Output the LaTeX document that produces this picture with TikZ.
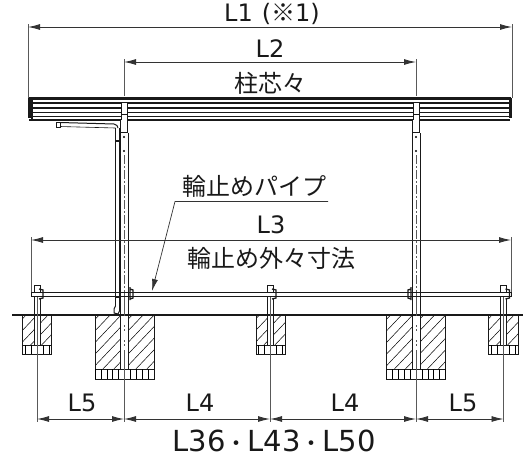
\documentclass[tikz,border=0pt]{standalone}
\usepackage{fontspec}
\setmainfont{DejaVu Sans}
\newfontfamily\cjk{Noto Sans CJK JP}
\usetikzlibrary{arrows.meta}
\newcommand{\middot}{{\cjk\fontsize{22}{22}\selectfont ・}}
\tikzset{
 x=1pt,y=-1pt,
 dimline/.style={line width=0.9pt,draw=black!80,{Latex[length=12pt,width=6pt]}-{Latex[length=12pt,width=6pt]}},
 extline/.style={line width=0.8pt,draw=black!65},
 part/.style={line width=1pt,draw=black!90},
 thin part/.style={line width=0.5pt,draw=black},
 lbl/.style={font=\fontsize{24}{24}\selectfont,text=black!90,inner sep=0pt},
 jlbl/.style={font=\cjk\fontsize{24}{24}\selectfont,text=black!90,inner sep=0pt},
 base/.style={line width=0.9pt,draw=black!90}
}
\newcommand{\footing}[5]{% cx, halfwidth, bottom of hatch, bottom of gravel, postgap
 \begin{scope}
  \clip (#1-#2,315) rectangle (#1+#2,#3);
  \foreach \k in {0,11,...,165}{\draw[thin part] (#1-#2-60+\k,#3+2) -- ++(55,-58);}
 \end{scope}
 \fill[white] (#1-#5,315) rectangle (#1+#5,#3);
 \draw[base] (#1-#2,315) rectangle (#1+#2,#4);
 \draw[base] (#1-#2,#3) -- (#1+#2,#3);
 \begin{scope}
  \clip (#1-#2,#3) rectangle (#1+#2,#4);
  \foreach \k in {-5,...,5}{\draw[thin part] (#1+\k*5.9,#3) -- (#1+\k*5.9,#4);}
 \end{scope}
 \draw[part] (#1-#5,315) -- (#1-#5,#3) (#1+#5,315) -- (#1+#5,#3);
}
\begin{document}
\begin{tikzpicture}
\useasboundingbox (0,0) rectangle (525,456);
\fill[white] (0,0) rectangle (525,456);
% named reference points
\coordinate (r1) at (28,27); \coordinate (r2) at (512,27);
\coordinate (p1) at (124,62); \coordinate (p2) at (416,62);
\coordinate (s1) at (31,240); \coordinate (s2) at (511,240);
\coordinate (a) at (37,419); \coordinate (b) at (124,419); \coordinate (c) at (270,419); \coordinate (d) at (416,419); \coordinate (e) at (503.5,419);
% roof
\foreach \y in {103,108,112.5,116.5,120}{\draw[part,line width=1.5pt] (29,\y) -- (510,\y);}
\draw[part,line width=2.4pt] (29,98.5) -- (511,98.5);
\draw[part,line width=2.6pt] (29.5,98) -- (29.5,118);
\draw[part,line width=1.6pt] (32,98) -- (32,120);
\draw[part,line width=2.6pt] (510.5,98) -- (510.5,118);
% post heads
\foreach \cx in {124,416}{
 \fill[white] (\cx-3,103) rectangle (\cx+3,131);
 \draw[part] (\cx-3,103) -- (\cx-3,120) (\cx+3,103) -- (\cx+3,120);
 \draw[part,line width=0.6pt] (\cx-3,114) -- (\cx+3,114);
 \draw[part,line width=1.8pt] (\cx-3.5,120) -- (\cx-3.5,132.5) -- (\cx+3.5,132.5) -- (\cx+3.5,120);
 \draw[part] (\cx-4,133) -- (\cx-4,315) (\cx+4,133) -- (\cx+4,315);
 \fill[black] (\cx,137) circle (1.2) (\cx,151) circle (1.2);
 \draw[extline,line width=0.45pt,dash pattern=on 9pt off 2pt on 2pt off 2pt] (\cx,155) -- (\cx,315);
}
% left post second tube and gutter arm
\draw[part] (115.5,128) -- (115.5,306);
\draw[part,line width=1.6pt] (119.5,128) -- (119.5,306);
\draw[part] (115.5,306) -- (114,309) -- (114,313) -- (118,314) -- (119.5,311) -- (119.5,306);
\draw[part] (60,122.5) -- (114,124) -- (117,125.5) -- (118,128);
\draw[part,line width=0.6pt] (60,126.5) -- (115.5,128);
\draw[part] (56,122) rectangle (60,127.5);
\draw[part,line width=1.6pt] (56,127.5) -- (60,127.5);
\draw[part,line width=1.6pt] (115,141) -- (120,141);
\draw[part,line width=1.6pt] (115,297) -- (120,297);
% pipe
\draw[part] (31,292) -- (511,292);
\draw[part] (31,296.5) -- (511,296.5);
\draw[part] (31,292) -- (31,296.5) (511,292) -- (511,296.5);
% small posts
\foreach \cx in {37,270,503.5}{
 \fill[white] (\cx-3,297) rectangle (\cx+3,315);
 \draw[part] (\cx-3,296.5) -- (\cx-3,315) (\cx+3,299) -- (\cx+3,315);
 \draw[part] (\cx-3,292) -- (\cx-3,285) -- (\cx+3,285) -- (\cx+3,292);
 \draw[part,line width=1.3pt] (\cx+2,289) -- (\cx+6,290) -- (\cx+6,298) -- (\cx+2,299);
}
\draw[part,line width=1.3pt] (130,287) -- (130,300) (130,289) -- (133,290) -- (133,298) -- (130,299);
\draw[part,line width=1.3pt] (411,287) -- (411,300) (411,289) -- (408,290) -- (408,298) -- (411,299);
% ground and footings
\draw[base,line width=1.1pt] (12,315) -- (523,315);
\footing{37.2}{14.5}{345}{354}{3}
\footing{124.5}{29.5}{369}{379}{4}
\footing{270.5}{14.5}{345}{354}{3}
\footing{416}{29.5}{369}{379}{4}
\footing{503.5}{14.8}{345}{354}{3}
% extension lines
\draw[extline] (28,24) -- (28,98);
\draw[extline] (512,24) -- (512,98);
\draw[extline,line width=0.6pt] (124,59) -- (124,96);
\draw[extline,line width=0.6pt] (416,59) -- (416,96);
\draw[extline] (31,237) -- (31,292);
\draw[extline] (511,237) -- (511,292);
\foreach \cx in {37,124,270,416,503.5}{\draw[extline] (\cx,297) -- (\cx,422);}
\foreach \cx in {124.5,416}{\draw[white,line width=1pt,dash pattern=on 9pt off 2pt on 2pt off 2pt] (\cx,316) -- (\cx,350);}
% dimensions
\draw[dimline] (r1) -- (r2);
\draw[dimline] (p1) -- (p2);
\draw[dimline] (s1) -- (s2);
\draw[dimline] (a) -- (b);
\draw[dimline] (b) -- (c);
\draw[dimline] (c) -- (d);
\draw[dimline] (d) -- (e);
% labels
\node[lbl] (t1) at (272,14) {L1\hspace{9pt}({\cjk ※}1)};
\node[lbl] (t2) at (270,49) {L2};
\node[jlbl] (t3) at (270,83) {柱芯々};
\node[lbl] (t4) at (271,225) {L3};
\node[jlbl] (t5) at (271,258) {輪止め外々寸法};
\node[jlbl] (t6) at (254,186) {輪止めパイプ};
\node[lbl] (t7) at (82,403) {L5};
\node[lbl] (t8) at (200,403) {L4};
\node[lbl] (t9) at (345,403) {L4};
\node[lbl] (t10) at (463,403) {L5};
\node[lbl,font=\fontsize{29}{29}\selectfont] (t11) at (274,441) {L36\middot L43\middot L50};
% leader
\coordinate (l1) at (328,201.5); \coordinate (l2) at (175,201.5); \coordinate (l3) at (152,291);
\draw[extline,line width=0.7pt,draw=black!80,-{Latex[length=12pt,width=6pt]}] (l1) -- (l2) -- (l3);
\end{tikzpicture}
\end{document}
